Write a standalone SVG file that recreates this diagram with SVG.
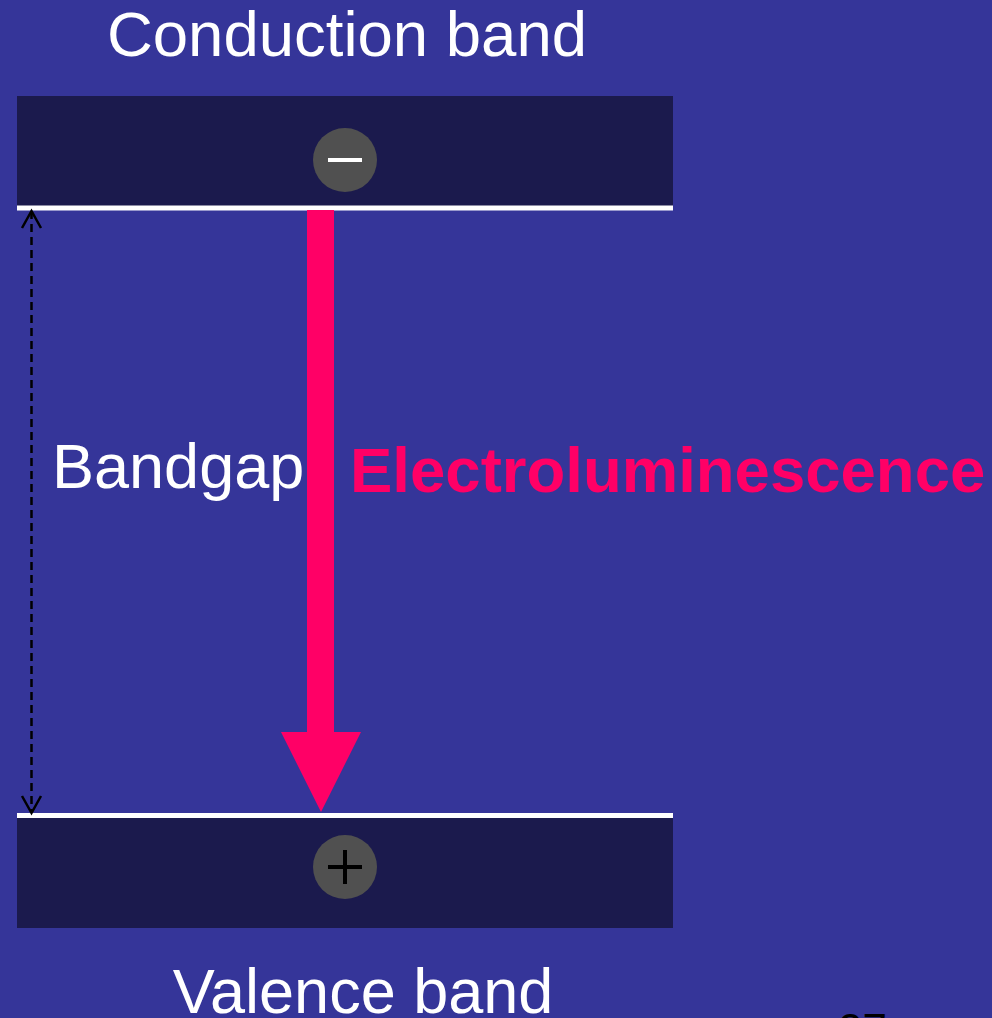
<svg xmlns="http://www.w3.org/2000/svg" width="992" height="1018" viewBox="0 0 992 1018">
<defs>
<style>
.t{font-family:"Liberation Sans",Arial,sans-serif;fill:#ffffff}
.band{fill:#1b1a4d}
.edge{stroke:#ffffff;stroke-width:5}
.chg{fill:#505050}
</style>
<marker id="open" viewBox="0 0 24 24" refX="20" refY="12" markerWidth="24" markerHeight="24" markerUnits="userSpaceOnUse" orient="auto-start-reverse">
<path d="M3,2.500 L20,12 L3,21.500" fill="none" stroke="#000" stroke-width="2.500"/>
</marker>
</defs>
<rect width="992" height="1018" fill="#353599"/>
<g id="conduction-band">
<rect class="band" x="17" y="96" width="656" height="110"/>
<line class="edge" x1="17" y1="208" x2="673" y2="208"/>
<text class="t" x="347" y="56" font-size="63.500" text-anchor="middle">Conduction band</text>
</g>
<g id="electron">
<circle class="chg" cx="345" cy="160" r="32"/>
<rect x="328" y="158" width="34" height="4" fill="#ffffff"/>
</g>
<g id="valence-band">
<rect class="band" x="17" y="816" width="656" height="112"/>
<line class="edge" x1="17" y1="815.500" x2="673" y2="815.500"/>
<text class="t" x="363" y="1013" font-size="63" text-anchor="middle">Valence band</text>
</g>
<g id="hole">
<circle class="chg" cx="345" cy="867" r="32"/>
<path d="M328,867 H362 M345,850 V884" stroke="#000" stroke-width="4"/>
</g>
<g id="connectors">
<line x1="31.500" y1="211" x2="31.500" y2="813" stroke="#000" stroke-width="2.500" stroke-dasharray="8,5" marker-start="url(#open)" marker-end="url(#open)"/>
<g id="emission-arrow">
<rect x="307" y="210" width="27" height="523" fill="#ff0066"/>
<polygon points="281,732 361,732 321,812" fill="#ff0066"/>
</g>
</g>
<text class="t" x="52" y="488" font-size="63">Bandgap</text>
<text x="350" y="492" font-size="63.500" font-weight="bold" font-family="'Liberation Sans',Arial,sans-serif" fill="#ff0066">Electroluminescence</text>
<text x="838" y="1045" font-size="44" font-family="'Liberation Sans',Arial,sans-serif" fill="#000">27</text>
</svg>
